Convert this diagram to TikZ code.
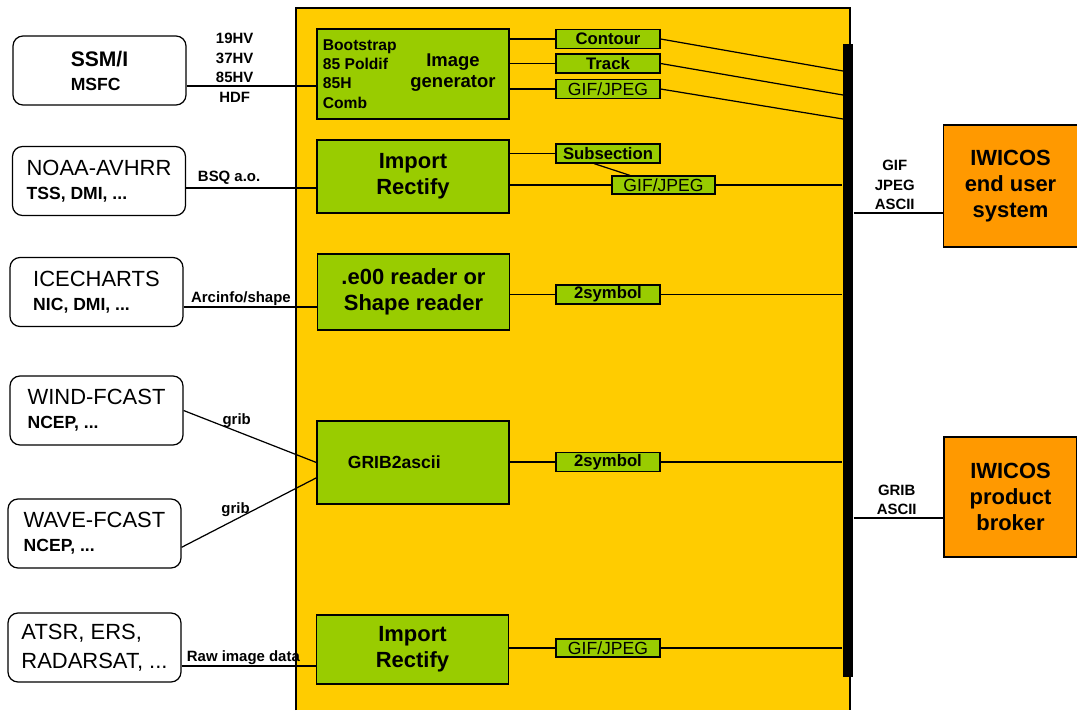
\documentclass[tikz,border=0pt]{standalone}
\usepackage{fontspec}
\setmainfont{Liberation Sans}
\usepackage{xcolor}

\definecolor{boxyellow}{HTML}{FFCC00}
\definecolor{procgreen}{HTML}{99CC00}
\definecolor{iwiorange}{HTML}{FF9900}

\begin{document}
\begin{tikzpicture}[x=0.02cm,y=-0.02cm,line width=0.7pt,
   src/.style={draw,rounded corners=0.2cm,minimum width=3.46cm,minimum height=1.38cm,
     align=left,font=\fontsize{12.5}{13.6}\selectfont},
   proc/.style={draw,fill=procgreen,minimum width=3.84cm,align=center,
     font=\bfseries\fontsize{12.5}{15}\selectfont},
   fmt/.style={draw,fill=procgreen,minimum width=2.08cm,minimum height=0.38cm,inner sep=0pt,
     font=\bfseries\fontsize{9.5}{11}\selectfont},
   gj/.style={fmt,font=\fontsize{10}{11}\selectfont},
   iwi/.style={draw,fill=iwiorange,align=center,font=\bfseries\fontsize{12.5}{15}\selectfont},
   lbl/.style={font=\bfseries\fontsize{8.5}{11}\selectfont,inner sep=1.5pt,align=center}]

\useasboundingbox (0,0) rectangle (1077,710);
\fill[boxyellow] (296,8) rectangle (850,710);
\draw (296,710) -- (296,8) -- (850,8) -- (850,710);

% data sources
\node[src] (ssmi) at (99.5,70.5) {\bfseries\fontsize{12}{13.6}\selectfont SSM/I\\{\bfseries\fontsize{10}{12}\selectfont MSFC}};
\node[src] (noaa) at (99,181) {NOAA-AVHRR\\{\bfseries\fontsize{10}{12}\selectfont TSS, DMI, ...}};
\node[src] (ice) at (96.5,292) {ICECHARTS\\{\bfseries\fontsize{10}{12}\selectfont NIC, DMI, ...}};
\node[src] (wind) at (96.5,410.5) {WIND-FCAST\\{\bfseries\fontsize{10}{12}\selectfont NCEP, ...}};
\node[src] (wave) at (94.5,533.5) {WAVE-FCAST\\{\bfseries\fontsize{10}{12}\selectfont NCEP, ...}};
\node[src,font=\fontsize{12.5}{16.4}\selectfont] (atsr) at (94.5,647.5) {ATSR, ERS,\\RADARSAT, ...};

% processing
\node[proc,minimum height=1.8cm] (imggen) at (413,74) {};
\node[anchor=west,align=left,font=\bfseries\fontsize{8.9}{11}\selectfont] (igin) at (imggen.west) {Bootstrap\\85 Poldif\\85H\\Comb};
\node[align=center,font=\bfseries\fontsize{10.5}{12}\selectfont] (igname) at (453,72.5) {Image\\generator};
\node[proc,minimum height=1.46cm] (imprect) at (413,176.5) {Import\\Rectify};
\node[proc,minimum height=1.52cm] (e00) at (413.5,292) {.e00 reader or\\Shape reader};
\node[proc,minimum height=1.66cm,font=\bfseries\fontsize{10}{12}\selectfont] (grib) at (413,462.5) {\hspace*{-0.75cm}GRIB2ascii};
\node[proc,minimum height=1.38cm] (imprectb) at (412.5,649.5) {Import\\Rectify};

% products
\node[fmt] (contour) at (608,39) {Contour};
\node[fmt] (track) at (608,63.5) {Track};
\node[gj] (gifa) at (608,89) {GIF/JPEG};
\node[fmt] (subsec) at (608,153.5) {Subsection};
\node[gj,minimum width=2.06cm,minimum height=0.36cm] (gifb) at (663.5,185) {GIF/JPEG};
\node[fmt] (symba) at (608,294.5) {2symbol};
\node[fmt] (symbb) at (608,462) {2symbol};
\node[gj,minimum height=0.36cm] (gifc) at (608,648) {GIF/JPEG};

% bus and IWICOS
\node[fill=black,minimum width=0.2cm,minimum height=12.66cm,inner sep=0pt] (bus) at (848,360.5) {};
\node[iwi,minimum width=2.68cm,minimum height=2.44cm] (endusr) at (1010.5,186) {IWICOS\\end user\\system};
\node[iwi,minimum width=2.66cm,minimum height=2.4cm] (broker) at (1010.5,497) {IWICOS\\product\\broker};

\coordinate (hdf) at (0,86);
\coordinate (bsq) at (0,188);
\coordinate (arc) at (0,307);
\coordinate (raw) at (0,666);
\coordinate (tapc) at (843,71);
\coordinate (tapt) at (843,95);
\coordinate (tapg) at (843,119);
\coordinate (gui) at (0,213);
\coordinate (gpb) at (0,518);

% inputs
\draw (ssmi.east |- hdf) -- node[lbl,above,pos=0.37] {19HV\\37HV\\85HV} node[lbl,below,pos=0.37,inner sep=3pt] {HDF} (imggen.west |- hdf);
\draw (noaa.east |- bsq) -- node[lbl,above,pos=0.33] {BSQ a.o.} (imprect.west |- bsq);
\draw (ice.east |- arc) -- node[lbl,above,pos=0.43,inner sep=0.5pt] {Arcinfo/shape} (e00.west |- arc);
\draw (wind.east) -- node[lbl,above,pos=0.4] {grib} (grib.west);
\draw (wave.-9.5) -- node[lbl,above,pos=0.4] {grib} (grib.189);
\draw (atsr.east |- raw) -- node[lbl,above,pos=0.46,inner sep=0.5pt] {Raw image data} (imprectb.west |- raw);

% outputs
\draw (imggen.east |- contour) -- (contour.west);
\draw (imggen.east |- track) -- (track.west);
\draw (imggen.east |- gifa) -- (gifa.west);
\draw (contour.east) -- (tapc);
\draw (track.east) -- (tapt);
\draw (gifa.east) -- (tapg);
\draw (imprect.east |- subsec) -- (subsec.west);
\draw (subsec.216) -- (gifb.164);
\draw (imprect.east |- gifb) -- (gifb.west);
\draw (gifb.east) -- (bus.west |- gifb);
\draw (e00.east |- symba) -- (symba.west);
\draw (symba.east) -- (bus.west |- symba);
\draw (grib.east |- symbb) -- (symbb.west);
\draw (symbb.east) -- (bus.west |- symbb);
\draw (imprectb.east |- gifc) -- (gifc.west);
\draw (gifc.east) -- (bus.west |- gifc);

\draw (bus.east |- gui) -- node[lbl,above,pos=0.46] {GIF\\JPEG\\ASCII} (endusr.west |- gui);
\draw (bus.east |- gpb) -- node[lbl,above,pos=0.48] {GRIB\\ASCII} (broker.west |- gpb);
\end{tikzpicture}
\end{document}
